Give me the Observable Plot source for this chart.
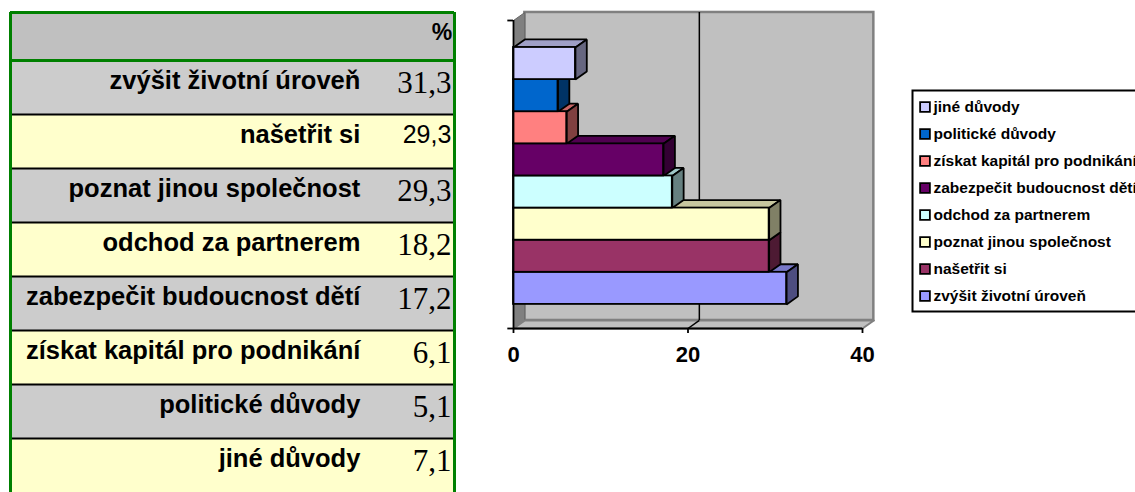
<!DOCTYPE html>
<html><head><meta charset="utf-8">
<script src="https://cdn.jsdelivr.net/npm/d3@7"></script>
<script src="https://cdn.jsdelivr.net/npm/@observablehq/plot@0.6"></script>
<style>
html,body{margin:0;padding:0;background:#fff;overflow:hidden;}
#page{position:relative;width:1135px;height:492px;overflow:hidden;background:#fff;}
#page > div{position:absolute;}
#table{left:0;top:0;width:460px;}
#chart{left:470px;top:0;width:430px;}
#legend{left:905px;top:84px;width:240px;}
svg{overflow:visible;max-width:none !important;}
</style></head><body>
<div id="page"><div id="table"></div><div id="chart"></div><div id="legend"></div></div>
<script>
// ---- data ----
const reasons = ["zvýšit životní úroveň","našetřit si","poznat jinou společnost","odchod za partnerem","zabezpečit budoucnost dětí","získat kapitál pro podnikání","politické důvody","jiné důvody"];
const percents = [31.3, 29.3, 29.3, 18.2, 17.2, 6.1, 5.1, 7.1];
const headerLabel = "%";
const xTicks = [0, 20, 40];
// ---- styles ----
const barColors = ["#9999ff","#993366","#ffffcc","#ccffff","#660066","#ff8080","#0066cc","#ccccff"];
const SANS = "'Liberation Sans', Arial, Helvetica, sans-serif";
const SERIF = "'Liberation Serif', 'Times New Roman', serif";

const fmt = v => d3.format(".1f")(v).replace(".", ",");
const rows = reasons.map((r, i) => ({reason: r, value: percents[i], i, text: fmt(percents[i])}));

// ---- table ----
const H0 = -0.89;
const N = rows.length;
const table = Plot.plot({
  width: 460, height: 492, marginLeft: 10, marginRight: 6, marginTop: 12, marginBottom: 0,
  x: {domain: [0, 100], axis: null},
  y: {domain: [H0, N], axis: null, reverse: true},
  style: {fontFamily: SANS, color: "black", background: "transparent"},
  marks: [
    Plot.rect([headerLabel], {x1: 0, x2: 100, y1: H0, y2: 0, fill: "#c0c0c0"}),
    Plot.rect(rows, {filter: d => d.i % 2 === 0, x1: 0, x2: 100, y1: d => d.i, y2: d => d.i + 1, fill: "#cccccc"}),
    Plot.rect(rows, {filter: d => d.i % 2 === 1, x1: 0, x2: 100, y1: d => d.i, y2: d => d.i + 1, fill: "#ffffcc"}),
    Plot.ruleY(d3.range(1, N), {x1: 0, x2: 100, stroke: "black", strokeWidth: 2}),
    Plot.ruleY([H0, 0], {x1: 0, x2: 100, stroke: "#008000", strokeWidth: 3}),
    Plot.ruleX([0, 100], {y1: H0, y2: N, stroke: "#008000", strokeWidth: 3}),
    Plot.text([headerLabel], {x: 99.5, y: H0, dy: 27, text: d => d, textAnchor: "end", lineAnchor: "bottom", fontWeight: "bold", fontSize: 23, fontFamily: SANS, fill: "black"}),
    Plot.text(rows, {x: 78.8, y: "i", dy: 28, text: "reason", textAnchor: "end", lineAnchor: "bottom", fontWeight: "bold", fontSize: 25.5, fontFamily: SANS, fill: "black"}),
    Plot.text(rows, {filter: d => d.i !== 1, x: 99.3, y: "i", dy: 32, text: "text", textAnchor: "end", lineAnchor: "bottom", fontSize: 31, fontFamily: SERIF, fill: "black"}),
    Plot.text(rows, {filter: d => d.i === 1, x: 99.3, y: "i", dy: 28, text: "text", textAnchor: "end", lineAnchor: "bottom", fontSize: 25, fontFamily: SANS, fill: "black"})
  ]
});
document.getElementById("table").append(table);

// ---- 3D bar chart ----
const DX = 1.3, DY = 0.25, yMin = -0.75, yMax = 8.84, xMax = d3.max(xTicks);
const shade = (c, k) => { const r = d3.rgb(c); return d3.rgb(r.r * k, r.g * k, r.b * k).formatHex(); };
const bars = rows.map(d => ({...d, color: barColors[d.i]}));
const poly = (id, pts, fill) => pts.map(([x, y]) => ({x, y, id, fill}));
const tops = bars.flatMap(b => poly(b.reason, [[0, b.i + 1], [b.value, b.i + 1], [b.value + DX, b.i + 1 + DY], [DX, b.i + 1 + DY]], shade(b.color, 0.78)));
const sides = bars.flatMap(b => poly(b.reason, [[b.value, b.i], [b.value + DX, b.i + DY], [b.value + DX, b.i + 1 + DY], [b.value, b.i + 1]], shade(b.color, 0.5)));
const leftWall = poly("left", [[0, yMin], [0, yMax], [DX, yMax + DY], [DX, yMin + DY]], "#808080");
const floor = poly("floor", [[0, yMin], [xMax, yMin], [xMax + DX, yMin + DY], [DX, yMin + DY]], "#c0c0c0");
const gridTicks = xTicks.filter(t => t > 0 && t < xMax);

const chart = Plot.plot({
  width: 430, height: 380, marginLeft: 43, marginRight: 38, marginTop: 20, marginBottom: 52,
  x: {domain: [0, xMax], label: null},
  y: {domain: [yMin, yMax], axis: null},
  color: {type: "identity"},
  style: {fontFamily: SANS, fontWeight: "bold", fontSize: "22px", color: "black", background: "transparent"},
  marks: [
    Plot.rect([0], {x1: DX, x2: xMax + DX, y1: yMin + DY, y2: yMax + DY, fill: "#c0c0c0", stroke: "#808080", strokeWidth: 2.5}),
    Plot.line(leftWall, {x: "x", y: "y", z: "id", fill: "fill", stroke: "#666", strokeWidth: 1, curve: "linear-closed"}),
    Plot.line(floor, {x: "x", y: "y", z: "id", fill: "fill", stroke: "#808080", strokeWidth: 2, curve: "linear-closed"}),
    Plot.ruleX(gridTicks, {x: d => d + DX, y1: yMin + DY, y2: yMax + DY, stroke: "black", strokeWidth: 1.5}),
    Plot.link(gridTicks, {x1: d => d, y1: yMin, x2: d => d + DX, y2: yMin + DY, stroke: "black", strokeWidth: 1.5}),
    Plot.line(tops, {x: "x", y: "y", z: "id", fill: "fill", stroke: "black", strokeWidth: 1.8, strokeLinejoin: "miter", curve: "linear-closed"}),
    Plot.line(sides, {x: "x", y: "y", z: "id", fill: "fill", stroke: "black", strokeWidth: 1.8, strokeLinejoin: "miter", curve: "linear-closed"}),
    Plot.rect(bars, {x1: 0, x2: "value", y1: "i", y2: d => d.i + 1, fill: "color", stroke: "black", strokeWidth: 1.8}),
    Plot.ruleX([0], {y1: yMin, y2: yMax, stroke: "black", strokeWidth: 1.8}),
    Plot.ruleY([yMin], {x1: 0, x2: xMax, stroke: "black", strokeWidth: 1.8}),
    Plot.ruleY([yMin, yMax], {x1: -0.65, x2: 0, stroke: "black", strokeWidth: 1.8}),
    Plot.axisX(xTicks, {tickSize: 5, tickPadding: 13, stroke: "black", fill: "black", strokeWidth: 1.8, label: null})
  ]
});
document.getElementById("chart").append(chart);

// ---- legend ----
const legendOrder = reasons.slice().reverse();
const colorOf = r => barColors[reasons.indexOf(r)];
const legend = Plot.plot({
  width: 240, height: 232, marginLeft: 7, marginRight: 0, marginTop: 6, marginBottom: 5,
  x: {domain: [0, 1], axis: null},
  y: {type: "band", domain: legendOrder, axis: null, padding: 0},
  color: {type: "identity"},
  style: {fontFamily: SANS, fontWeight: "bold", fontSize: "15.5px", color: "black", background: "transparent"},
  marks: [
    Plot.frame({stroke: "black", strokeWidth: 2}),
    Plot.dot(legendOrder, {y: d => d, frameAnchor: "left", dx: 12.5, symbol: "square", r: 5.5, fill: colorOf, stroke: "black", strokeWidth: 1.8}),
    Plot.text(legendOrder, {y: d => d, text: d => d, frameAnchor: "left", dx: 21, textAnchor: "start", fill: "black"})
  ]
});
document.getElementById("legend").append(legend);
</script>
</body></html>
